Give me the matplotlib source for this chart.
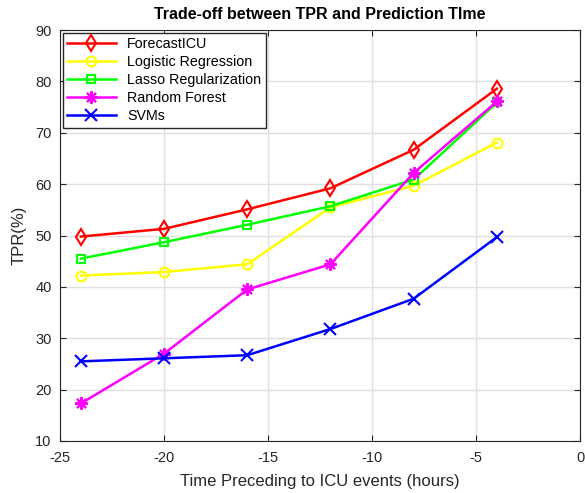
import matplotlib
matplotlib.use('Agg')
import matplotlib.pyplot as plt

plt.rcParams['font.family'] = ['Liberation Sans', 'DejaVu Sans']
plt.rcParams['axes.unicode_minus'] = False

hours = [-24, -20, -16, -12, -8, -4]
forecast_icu = [49.8, 51.3, 55.1, 59.2, 66.7, 78.6]
logistic = [42.2, 42.9, 44.4, 55.5, 59.7, 68.1]
lasso = [45.5, 48.7, 52.1, 55.7, 60.9, 75.9]
random_forest = [17.3, 27.0, 39.5, 44.4, 62.2, 76.1]
svms = [25.5, 26.1, 26.7, 31.8, 37.7, 49.7]

series = [
    ('ForecastICU', forecast_icu, '#ff0000', 'd', 8),
    ('Logistic Regression', logistic, '#ffff00', 'o', 7),
    ('Lasso Regularization', lasso, '#00ff00', 's', 6),
    ('Random Forest', random_forest, '#ff00ff', (8, 2, 0), 9),
    ('SVMs', svms, '#0000ff', 'x', 8),
]

fig = plt.figure(figsize=(5.85, 4.93), dpi=100)
ax = fig.add_axes([0.1026, 0.1055, 0.889, 0.8335])

for name, vals, col, mk, ms in series:
    ax.plot(hours, vals, color=col, marker=mk, markerfacecolor='none',
            markeredgecolor=col, markersize=ms, markeredgewidth=1.5,
            linewidth=1.8, label=name)

ax.set_xlim(-25, 0)
ax.set_ylim(10, 90)
ax.set_xticks(range(-25, 1, 5))
ax.set_yticks(range(10, 91, 10))
ax.grid(True, color='#e0e0e0', linewidth=1)
ax.set_axisbelow(True)
ax.tick_params(direction='in', labelsize=10.5, colors='#262626', top=True, right=True, length=4)
ax.tick_params(axis='x', pad=7)
ax.tick_params(axis='y', pad=6)
for s in ax.spines.values():
    s.set_color('#262626')
    s.set_linewidth(0.8)

ax.set_title('Trade-off between TPR and Prediction TIme', fontsize=11.5, fontweight='bold', pad=8)
ax.set_xlabel('Time Preceding to ICU events (hours)', fontsize=12, color='#262626', labelpad=7)
ax.set_ylabel('TPR(%)', fontsize=12, color='#262626', labelpad=6)

leg = ax.legend(loc='upper left', fontsize=10.3, fancybox=False, framealpha=1,
                edgecolor='#262626', borderaxespad=0.2, handlelength=3.4,
                borderpad=0.3, labelspacing=0.28)
leg.get_frame().set_linewidth(1)

fig.savefig('out.png', dpi=100)
